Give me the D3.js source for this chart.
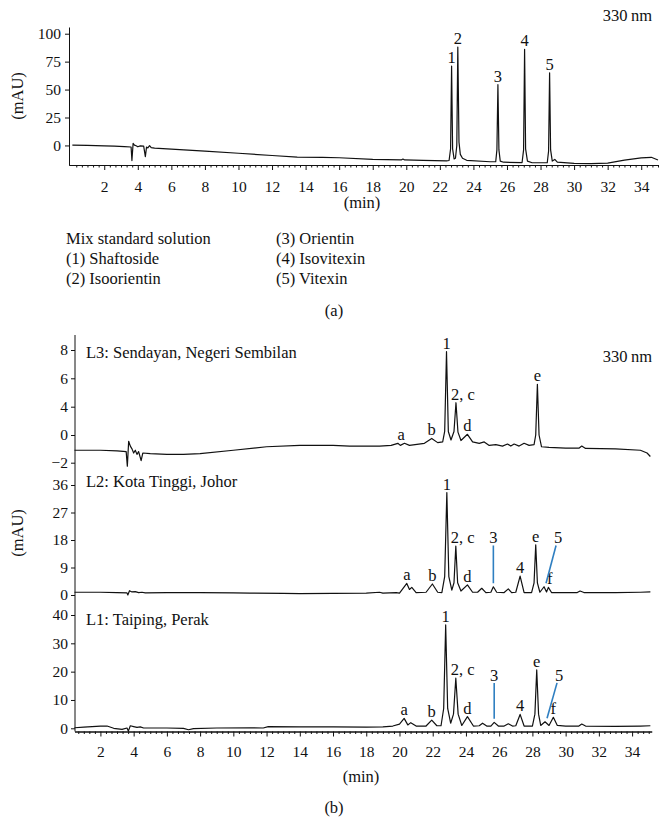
<!DOCTYPE html>
<html><head><meta charset="utf-8">
<script src="https://cdn.jsdelivr.net/npm/d3@7"></script>
<style>body{margin:0;background:#fff} svg{display:block} text{font-family:"Liberation Serif","DejaVu Serif",serif;fill:#111}</style>
</head><body><svg id="c" width="669" height="826"></svg>
<script>
// ---------- DATA ----------
const xMajorTicks = d3.range(2, 35, 2);
const yTicksA = [0, 25, 50, 75, 100];
const yTicksL3 = [-2, 0, 4, 6, 8];
const yTicksL2 = [0, 9, 18, 27, 36];
const yTicksL1 = [0, 10, 20, 30, 40];

// (a) mix standard, mAU vs min
const traceA = [
[0.1,0.3],[1,0],[2,-0.4],[2.6,-0.6],[3.2,-1],[3.6,-1.4],[3.65,-13.5],[3.72,1.8],[3.8,0.3],[3.9,-0.3],[4.0,-1.2],[4.15,-0.4],[4.35,-0.6],[4.45,-10],[4.52,-1.5],[4.6,-2.2],[4.7,-0.2],[4.8,-2],[5,-2.4],[6,-3.3],[8,-5.1],[10,-7],[12,-9],[13.5,-10.4],[15,-10.6],[16,-11],[18,-12.4],[19.7,-13],[19.8,-12.2],[19.9,-13],[21,-13.4],[22.4,-13.8],
[22.55,-13.5],[22.64,-3],[22.7,71],[22.76,-3],[22.85,-12],[22.93,-11.5],[23.01,0],[23.07,88],[23.14,3],[23.22,-8],[23.35,-11.5],[23.6,-13.3],[25,-14.6],[25.33,-14.5],[25.4,-4],[25.46,54.4],[25.52,-4],[25.6,-14],[25.8,-15],[26.9,-15.3],[26.99,-4],[27.05,86],[27.11,-3],[27.22,-14],[27.5,-15.5],[28.4,-15.5],[28.48,-5],[28.54,65],[28.6,-4],[28.7,-14],[28.85,-12.5],[29,-15],[30,-16],[31,-16.2],[32,-15.8],[33,-13.2],[34,-11.2],[34.6,-10.6],[35,-13]
];
const peaksA = [["1",22.7,71],["2",23.07,88],["3",25.46,54.4],["4",27.05,86],["5",28.54,65]];
const legendCol1 = ["Mix standard solution","(1) Shaftoside","(2) Isoorientin"];
const legendCol2 = ["(3) Orientin","(4) Isovitexin","(5) Vitexin"];

// (b) samples
const traceL3 = [
[0.44,-1.1],[2,-1.1],[3,-1.15],[3.55,-1.2],[3.62,-2.25],[3.7,-0.45],[3.8,-0.8],[3.9,-1.0],[4.0,-1.3],[4.1,-1.1],[4.2,-1.4],[4.3,-1.2],[4.45,-1.85],[4.55,-1.3],[5,-1.35],[6,-1.4],[7,-1.4],[8,-1.35],[10,-1.1],[12,-0.85],[14,-0.75],[16,-0.75],[17,-0.8],[18.8,-0.8],[19.5,-0.75],[19.9,-0.6],[20.05,-0.75],[20.3,-0.6],[20.6,-0.75],[21.5,-0.6],[21.94,-0.25],[22.3,-0.55],[22.6,-0.5],[22.72,0.5],[22.83,7.88],[22.94,0.5],[23.1,-0.36],[23.28,0.5],[23.4,4.28],[23.52,0.4],[23.7,-0.4],[24.09,0.1],[24.4,-0.5],[24.8,-0.6],[25.1,-0.5],[25.4,-0.75],[25.8,-0.7],[26.2,-0.8],[26.5,-0.65],[26.7,-0.8],[26.9,-0.65],[27.2,-0.8],[27.5,-0.6],[27.8,-0.75],[28.1,-0.7],[28.2,0],[28.3,5.58],[28.4,0],[28.55,-0.85],[29,-0.9],[30,-0.95],[30.8,-0.95],[30.97,-0.8],[31.2,-0.97],[33,-1.0],[34.5,-1.1],[34.9,-1.3],[35.1,-1.55]
];
const peaksL3 = [["a",20.1,-0.6],["b",21.94,-0.25],["1",22.83,7.88],["2, c",23.4,4.28],["d",24.09,0.1],["e",28.3,5.58]];

const traceL2 = [
[0.44,0.9],[2,0.9],[3,0.8],[3.6,0.7],[3.65,0],[3.75,1.4],[3.9,1.0],[4.1,1.1],[4.3,0.8],[4.5,0.9],[4.7,0.7],[6,0.8],[8,0.8],[10,0.7],[11,0.6],[13,0.55],[14,0.45],[16,0.5],[18,0.6],[18.8,0.9],[19,0.6],[19.8,0.8],[20,0.6],[20.44,3.8],[20.6,1.8],[20.74,2.5],[21,0.8],[21.6,0.9],[21.98,3.6],[22.3,0.9],[22.55,0.8],[22.72,6],[22.85,33.5],[22.97,6],[23.15,1.6],[23.28,4],[23.39,16],[23.5,4],[23.7,1.3],[24.09,3.3],[24.4,0.9],[24.7,0.9],[24.95,2.2],[25.2,0.8],[25.5,0.9],[25.65,2.7],[25.85,0.9],[26.3,0.8],[26.55,2.0],[26.75,0.8],[27.0,0.9],[27.26,6.2],[27.5,0.8],[27.95,0.8],[28.1,4],[28.2,16.4],[28.3,4],[28.45,0.9],[28.7,2.7],[28.85,1.0],[28.96,2.5],[29.15,0.8],[30,0.8],[30.7,0.8],[30.87,1.3],[31.1,0.8],[33,0.8],[34.5,0.9],[35.1,1.0]
];
const peaksL2 = [["a",20.44,3.8],["b",21.98,3.6],["1",22.85,33.5],["2, c",23.39,16],["d",24.09,3.3],["4",27.26,6.2],["e",28.2,16.4],["f",29.05,2.5]];
const calloutsL2 = [["3",25.65,2.7,18.5],["5",28.7,2.7,18.5]];

const traceL1 = [
[0.44,0.2],[1,0.4],[2,0.8],[2.4,0.8],[2.8,0.0],[3.3,-0.4],[3.6,0.1],[3.68,-1.0],[3.8,0.9],[4.0,0.6],[4.2,0.3],[4.4,0.5],[4.6,0.1],[4.8,0.1],[6,0.1],[7,0.0],[7.3,-0.5],[7.6,-0.1],[9,0.1],[11,0.2],[11.8,0.1],[12.1,0.6],[14,0.5],[16,0.5],[18,0.4],[19,0.5],[19.6,0.8],[20,1.5],[20.28,3.5],[20.5,1.2],[20.68,2.0],[21,0.8],[21.6,0.8],[21.94,2.9],[22.25,0.9],[22.5,0.9],[22.66,7],[22.78,36.5],[22.9,7],[23.08,1.8],[23.25,5],[23.39,17.7],[23.53,5],[23.75,1.0],[24.09,4.1],[24.45,0.8],[24.8,0.9],[25.0,1.8],[25.25,0.8],[25.5,0.8],[25.7,2.1],[25.95,0.8],[26.3,0.8],[26.55,1.6],[26.8,0.8],[27.0,0.9],[27.26,4.9],[27.5,0.8],[28.0,0.8],[28.15,5],[28.26,20.6],[28.37,5],[28.5,1.0],[28.76,2.3],[29.0,1.0],[29.26,3.9],[29.5,1.0],[30,0.8],[30.8,0.8],[30.97,1.5],[31.2,0.8],[33,0.7],[34.5,0.8],[35.1,0.9]
];
const peaksL1 = [["a",20.28,3.5],["b",21.94,2.9],["1",22.78,36.5],["2, c",23.39,17.7],["d",24.09,4.1],["4",27.26,4.9],["e",28.26,20.6],["f",29.26,3.9]];
const calloutsL1 = [["3",25.7,2.1,18.5],["5",28.76,2.3,18.5]];

const panelTitles = ["L3: Sendayan, Negeri Sembilan","L2: Kota Tinggi, Johor","L1: Taiping, Perak"];

// ---------- DRAW ----------
const svg = d3.select("#c");
const FS = 15.5;   // tick labels
const TS = 16.5;   // other text
const minorTicks = d3.range(0, 106).filter(i => i % 6 !== 0).map(i => i / 3);

function fmt(v){ return v < 0 ? "\u2212" + Math.abs(v) : String(v); }

function styleAxis(g){
  g.attr("font-family", null).attr("font-size", null);
  g.selectAll("text").attr("font-size", FS).attr("fill", "#111");
  g.selectAll("line,path").attr("stroke", "#111");
}

function xAxis(scale, y, labelY){
  const gm = svg.append("g").attr("transform", `translate(0,${y})`)
    .call(d3.axisBottom(scale).tickValues(minorTicks.filter(t => t >= scale.domain()[0] && t <= scale.domain()[1])).tickSize(2.5).tickSizeOuter(0).tickFormat(""));
  styleAxis(gm);
  const g = svg.append("g").attr("transform", `translate(0,${y})`)
    .call(d3.axisBottom(scale).tickValues(xMajorTicks).tickSize(5).tickSizeOuter(0));
  styleAxis(g);
  g.selectAll("text").attr("y", labelY).attr("dy", null);
}

function yAxis(scale, ticks, x, pad){
  const g = svg.append("g").attr("transform", `translate(${x},0)`)
    .call(d3.axisLeft(scale).tickValues(ticks).tickSize(4).tickPadding(pad).tickFormat(fmt));
  styleAxis(g);
  g.select(".domain").remove();
}

function trace(data, xs, ys){
  svg.append("path").datum(data)
    .attr("d", d3.line().x(d => xs(d[0])).y(d => ys(d[1])))
    .attr("fill", "none").attr("stroke", "#111").attr("stroke-width", 1.2).attr("stroke-linejoin", "round");
}

function peakLabels(peaks, xs, ys){
  peaks.forEach(p => {
    const wide = p[0].length > 1;
    svg.append("text").attr("x", xs(p[1]) + (wide ? -5 : 0)).attr("y", ys(p[2]) - 3)
      .attr("text-anchor", wide ? "start" : "middle").attr("font-size", TS).text(p[0]);
  });
}

function callouts(list, xs, ys){
  list.forEach(c => {
    const vertical = c[0] === "3";
    const lx = xs(c[1]) + (vertical ? 0 : 14);
    const ly = ys(c[3]);
    svg.append("text").attr("x", lx).attr("y", ly + 5).attr("text-anchor", "middle").attr("font-size", TS).text(c[0]);
    svg.append("line")
      .attr("x1", vertical ? lx : lx - 2).attr("y1", ly + 7)
      .attr("x2", xs(c[1]) + (vertical ? 0 : 2)).attr("y2", ys(c[2]) - 3.5)
      .attr("stroke", "#2f7fc1").attr("stroke-width", 1.6);
  });
}

// ----- (a) -----
const xA = d3.scaleLinear().domain([-0.1, 35]).range([69, 658]);
const yA = d3.scaleLinear().domain([-17.5, 106]).range([165, 27]);
xAxis(xA, 165, 26.7);
{
  const g = svg.append("g").attr("transform", "translate(69,0)")
    .call(d3.axisLeft(yA).tickValues(yTicksA).tickSize(4).tickSizeOuter(0).tickPadding(4));
  styleAxis(g);
}
trace(traceA, xA, yA);
peakLabels(peaksA, xA, yA);
svg.append("text").attr("x", 652).attr("y", 21).attr("text-anchor", "end").attr("font-size", TS).text("330\u2009nm");
svg.append("text").attr("transform", "translate(23,96) rotate(-90)").attr("text-anchor", "middle").attr("font-size", TS).text("(mAU)");
svg.append("text").attr("x", 362).attr("y", 208).attr("text-anchor", "middle").attr("font-size", TS).text("(min)");
legendCol1.forEach((t, i) => svg.append("text").attr("x", 66).attr("y", 244 + i * 20).attr("font-size", TS).text(t));
legendCol2.forEach((t, i) => svg.append("text").attr("x", 276).attr("y", 244 + i * 20).attr("font-size", TS).text(t));
svg.append("text").attr("x", 334).attr("y", 316).attr("text-anchor", "middle").attr("font-size", TS).text("(a)");

// ----- (b) -----
const xB = d3.scaleLinear().domain([0.44, 35.18]).range([74.5, 651.7]);
const yL3 = d3.scaleLinear().domain(yTicksL3).range([462.7, 435, 406.7, 378.3, 350]);
const yL2 = d3.scaleLinear().domain([0, 36]).range([595, 485]);
const yL1 = d3.scaleLinear().domain([0, 40]).range([728.3, 615]);

svg.append("line").attr("x1", 75).attr("x2", 75).attr("y1", 335).attr("y2", 731.5).attr("stroke", "#111");
yAxis(yL3, yTicksL3, 75, 3);
yAxis(yL2, yTicksL2, 75, 3);
yAxis(yL1, yTicksL1, 75, 3);
xAxis(xB, 731.5, 25.5);

trace(traceL3, xB, yL3);
trace(traceL2, xB, yL2);
trace(traceL1, xB, yL1);
peakLabels(peaksL3, xB, yL3);
peakLabels(peaksL2, xB, yL2);
peakLabels(peaksL1, xB, yL1);
callouts(calloutsL2, xB, yL2);
callouts(calloutsL1, xB, yL1);

[[358, 0], [487, 1], [625, 2]].forEach(([y, i]) =>
  svg.append("text").attr("x", 86).attr("y", y).attr("font-size", TS).text(panelTitles[i]));
svg.append("text").attr("x", 652).attr("y", 361.5).attr("text-anchor", "end").attr("font-size", TS).text("330\u2009nm");
svg.append("text").attr("transform", "translate(23,533) rotate(-90)").attr("text-anchor", "middle").attr("font-size", TS).text("(mAU)");
svg.append("text").attr("x", 361).attr("y", 782).attr("text-anchor", "middle").attr("font-size", TS).text("(min)");
svg.append("text").attr("x", 334).attr("y", 813).attr("text-anchor", "middle").attr("font-size", TS).text("(b)");
</script></body></html>
